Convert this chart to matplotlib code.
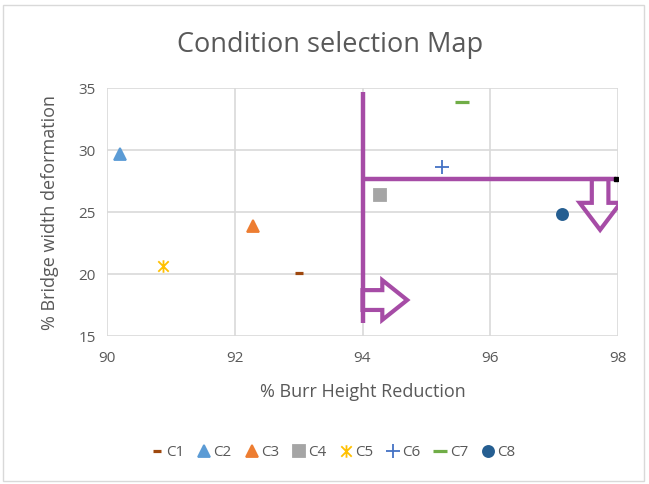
import matplotlib.pyplot as plt
from matplotlib.patches import FancyArrow, Rectangle
from matplotlib.path import Path

plt.rcParams['font.family'] = ['Open Sans', 'DejaVu Sans']

# 各工况点: % Burr Height Reduction, % Bridge width deformation
names = ['C1', 'C2', 'C3', 'C4', 'C5', 'C6', 'C7', 'C8']
burr = [93.0, 90.2, 92.28, 94.28, 90.88, 95.25, 95.56, 97.13]
bridge = [20.1, 29.7, 23.9, 26.4, 20.65, 28.6, 33.9, 24.85]

# Excel 的星号标记：X 加一条竖线
star = Path([(-1, -1), (1, 1), (-1, 1), (1, -1), (0, -1.2), (0, 1.2)],
            [Path.MOVETO, Path.LINETO, Path.MOVETO, Path.LINETO, Path.MOVETO, Path.LINETO])

colors = ['#9E480E', '#5B9BD5', '#ED7D31', '#A5A5A5', '#FFC000', '#4472C4', '#70AD47', '#255E91']
markers = ['_', '^', '^', 's', star, '+', '_', 'o']
sizes = [6, 8, 8, 8, 9, 10, 10, 8]

# 选择区域的边界线
vline_x = [94, 94]
vline_y = [16.05, 34.7]
hline_x = [94, 97.97]
hline_y = [27.66, 27.66]

purple = '#A64CA6'
gray_text = '#595959'

fig = plt.figure(figsize=(6.49, 4.84), dpi=100)
ax = fig.add_axes([107 / 649, 1 - 336 / 484, (618 - 107) / 649, (336 - 88) / 484])

for i in range(len(names)):
    ax.plot(burr[i], bridge[i], linestyle='none', marker=markers[i], color=colors[i],
            markersize=sizes[i], markeredgewidth=2.3 if markers[i] == '_' else 1.3,
            label=names[i], zorder=4)

ax.plot(vline_x, vline_y, color=purple, lw=3.2, solid_capstyle='butt', zorder=3)
ax.plot(hline_x, hline_y, color=purple, lw=3.2, solid_capstyle='butt', zorder=3)
ax.plot(hline_x[-1], hline_y[-1], marker='s', color='black', markersize=3.5, zorder=5)

# 两个空心箭头
ax.add_patch(FancyArrow(94, 17.9, 0.70, 0, width=1.6, head_width=3.2, head_length=0.39,
                        length_includes_head=True, fill=False, edgecolor=purple, lw=3, zorder=3))
ax.add_patch(FancyArrow(97.72, 27.66, 0, -4.1, width=0.26, head_width=0.64, head_length=2.18,
                        length_includes_head=True, fill=False, edgecolor=purple, lw=3, zorder=3))

ax.set_xlim(90, 98)
ax.set_ylim(15, 35)
ax.set_xticks([90, 92, 94, 96, 98])
ax.set_yticks([15, 20, 25, 30, 35])
ax.grid(True, color='#D9D9D9', lw=1.2)
ax.set_axisbelow(True)
for s in ax.spines.values():
    s.set_visible(False)
ax.tick_params(axis='x', length=0, labelsize=11, colors=gray_text, pad=11)
ax.tick_params(axis='y', length=0, labelsize=11, colors=gray_text, pad=8)

ax.set_xlabel('% Burr Height Reduction', fontsize=13, color=gray_text, labelpad=12)
ax.set_ylabel('% Bridge width deformation', fontsize=13, color=gray_text, labelpad=14)
fig.text(330 / 649, 1 - 45 / 484, 'Condition selection Map', fontsize=19.5, color=gray_text,
         ha='center', va='center')

leg = fig.legend(loc='center', bbox_to_anchor=(333 / 649, 1 - 453 / 484), ncol=8, frameon=False,
                 fontsize=11, handlelength=0.8, handletextpad=0.2, columnspacing=0.9)
for t in leg.get_texts():
    t.set_color(gray_text)

fig.patches.append(Rectangle((3 / 649, 3 / 484), 641 / 649, 476 / 484, transform=fig.transFigure,
                             fill=False, edgecolor='#D9D9D9', lw=1))

fig.savefig('out.png', dpi=100)
